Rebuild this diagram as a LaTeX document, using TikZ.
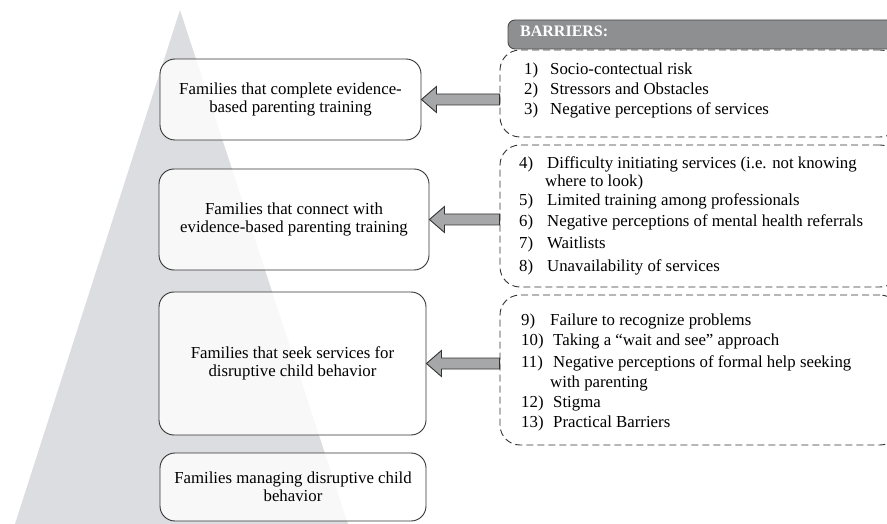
\documentclass[tikz,border=0pt]{standalone}
\usepackage{fontspec}
\setmainfont{Liberation Serif}
\usetikzlibrary{calc}
\definecolor{tri}{HTML}{DCDDE0}
\definecolor{hdr}{HTML}{8E8F91}
\definecolor{arr}{HTML}{A6A7A9}
\definecolor{edge}{HTML}{333333}
\tikzset{
  famBox/.style={draw=edge, line width=0.9pt, rounded corners=15pt, fill=white, fill opacity=0.82, text opacity=1, align=center, inner sep=0pt, font=\fontsize{16.8}{18}\selectfont},
  barBox/.style={draw=edge, line width=0.9pt, dash pattern=on 7pt off 4pt, rounded corners=20pt, inner sep=0pt},
  hdrBox/.style={draw=black!70, line width=0.9pt, fill=hdr, rounded corners=7pt, inner sep=0pt},
  itemTxt/.style={anchor=mid west, inner sep=0pt, font=\fontsize{16.8}{19}\selectfont, align=left},
  fatArrow/.style={draw=edge, line width=0.9pt, fill=arr, line join=miter},
}
\begin{document}
\begin{tikzpicture}[x=1pt,y=-1pt]
\useasboundingbox (0,0) rectangle (887,524);
\begin{scope}
\clip (0,0) rectangle (887,524);
% pyramid
\fill[tri] (180,10) -- (348,524) -- (15,524) -- cycle;

% family boxes
\node[famBox, minimum width=261pt, minimum height=81pt] (f1) at (290.5,99.5) {Families that complete evidence-\\based parenting training};
\node[famBox, minimum width=270pt, minimum height=101pt] (f2) at (294,219.5) {Families that connect with\\evidence-based parenting training};
\node[famBox, minimum width=267pt, minimum height=143pt] (f3) at (292.5,363.5) {Families that seek services for\\disruptive child behavior};
\node[famBox, minimum width=266pt, minimum height=68pt] (f4) at (293,487) {Families managing disruptive child\\behavior};

% header
\node[hdrBox, minimum width=392pt, minimum height=29pt] (hd) at (704,34.5) {};
\node[anchor=mid west, inner sep=0pt, text=white, font=\fontsize{16}{18}\bfseries\selectfont] (hdt) at (520,34) {BARRIERS:};

% barrier boxes
\node[barBox, minimum width=400pt, minimum height=87pt] (d1) at (700,93.5) {};
\node[barBox, minimum width=400pt, minimum height=142pt] (d2) at (700,216) {};
\node[barBox, minimum width=400pt, minimum height=150pt] (d3) at (700,370) {};

% items box 1
\node[itemTxt] (n1) at (524,72) {1)};  \node[itemTxt] (t1) at (550,72) {Socio-contectual risk};
\node[itemTxt] (n2) at (524,92) {2)};  \node[itemTxt] (t2) at (550,92) {Stressors and Obstacles};
\node[itemTxt] (n3) at (524,112) {3)}; \node[itemTxt] (t3) at (550,112) {Negative perceptions of services};

% items box 2
\node[itemTxt] (n4) at (519,166) {4)}; \node[itemTxt] (t4) at (547,166) {Difficulty initiating services (i.e. not knowing};
\node[itemTxt] (t4b) at (545,184) {where to look)};
\node[itemTxt] (n5) at (519,203) {5)}; \node[itemTxt] (t5) at (547,203) {Limited training among professionals};
\node[itemTxt] (n6) at (519,224) {6)}; \node[itemTxt] (t6) at (547,224) {Negative perceptions of mental health referrals};
\node[itemTxt] (n7) at (519,246) {7)}; \node[itemTxt] (t7) at (547,246) {Waitlists};
\node[itemTxt] (n8) at (519,269) {8)}; \node[itemTxt] (t8) at (547,269) {Unavailability of services};

% items box 3
\node[itemTxt] (n9) at (521,323) {9)};   \node[itemTxt] (t9) at (550,323) {Failure to recognize problems};
\node[itemTxt] (n10) at (521,343) {10)}; \node[itemTxt] (t10) at (553,343) {Taking a ``wait and see'' approach};
\node[itemTxt] (n11) at (521,365) {11)}; \node[itemTxt] (t11) at (553,365) {Negative perceptions of formal help seeking};
\node[itemTxt] (t11b) at (550,385) {with parenting};
\node[itemTxt] (n12) at (521,405) {12)}; \node[itemTxt] (t12) at (553,405) {Stigma};
\node[itemTxt] (n13) at (521,425) {13)}; \node[itemTxt] (t13) at (553,425) {Practical Barriers};

% fat arrows from barrier boxes to family boxes
\foreach \f/\d in {f1/d1, f2/d2, f3/d3}{
  \draw[fatArrow] (\f.east) -- ++(15,-13) -- ++(0,7.5) -- ($(\d.west |- \f.east)+(0,-5.5)$)
     -- ($(\d.west |- \f.east)+(0,5.5)$) -- ($(\f.east)+(15,5.5)$) -- ++(0,7.5) -- cycle;
}
\end{scope}
\end{tikzpicture}
\end{document}
